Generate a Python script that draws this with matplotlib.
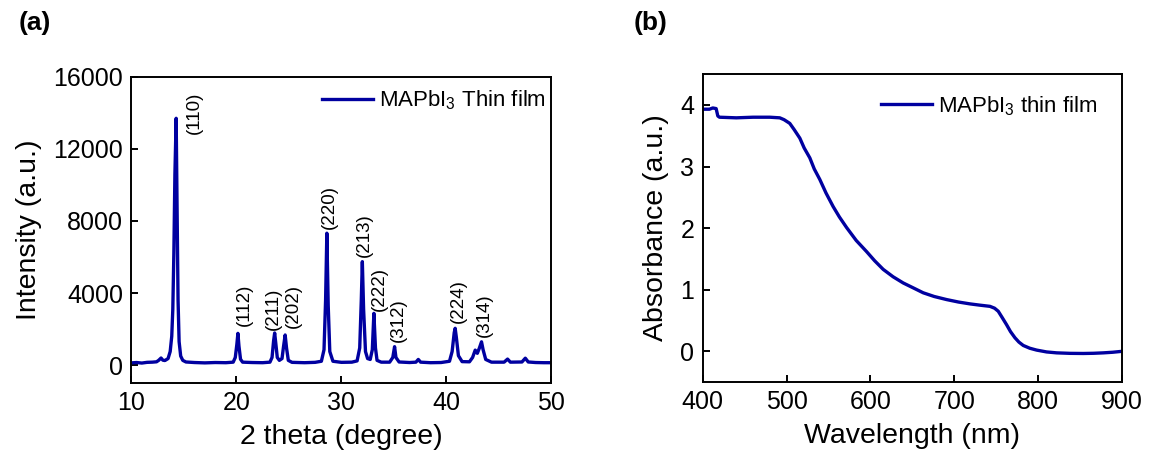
import numpy as np
import matplotlib.pyplot as plt

plt.rcParams['font.family'] = ['Liberation Sans', 'DejaVu Sans']
plt.rcParams['mathtext.fontset'] = 'custom'
plt.rcParams['mathtext.rm'] = 'Liberation Sans'

line_color = '#0000a0'

# XRD pattern (2 theta, intensity)
two_theta = [10.0, 10.5, 11.0, 11.5, 12.0, 12.4, 12.6, 12.83, 13.0, 13.2, 13.5, 13.7,
             13.85, 13.95, 14.05, 14.15, 14.27, 14.35, 14.45, 14.55, 14.7, 14.9, 15.2,
             16.0, 17.0, 18.0, 19.0, 19.7, 19.9, 20.05, 20.15, 20.25, 20.4, 20.6,
             21.5, 22.5, 23.2, 23.4, 23.55, 23.65, 23.75, 23.9, 24.1, 24.35, 24.5,
             24.65, 24.78, 24.95, 25.3, 26.5, 27.5, 28.1, 28.35, 28.5, 28.62, 28.75,
             28.9, 29.2, 30.0, 31.0, 31.5, 31.75, 31.9, 32.0, 32.12, 32.3, 32.5,
             32.75, 32.95, 33.1, 33.25, 33.4, 33.8, 34.6, 34.9, 35.07, 35.2, 35.5,
             36.5, 37.1, 37.33, 37.55, 38.5, 39.5, 40.3, 40.55, 40.75, 40.84, 40.95,
             41.15, 41.5, 42.2, 42.5, 42.75, 42.95, 43.15, 43.35, 43.5, 43.75, 44.3,
             45.5, 45.83, 46.1, 47.2, 47.52, 47.8, 48.5, 49.3, 50.0]
intensity = [120, 140, 110, 150, 160, 180, 260, 390, 270, 250, 360, 750,
             1600, 3100, 6200, 10600, 13700, 9100, 3600, 1300, 500, 260, 170,
             140, 120, 140, 130, 160, 420, 1150, 1760, 1050, 320, 160,
             140, 130, 160, 420, 1350, 1780, 1250, 420, 260, 360, 1050,
             1670, 950, 260, 150, 130, 150, 210, 850, 3600, 7320, 3300,
             750, 210, 150, 160, 230, 950, 3600, 5740, 3100, 750, 360,
             310, 850, 2870, 950, 260, 160, 160, 420, 1020, 420, 170,
             140, 160, 310, 160, 130, 140, 210, 750, 1800, 2040, 1550,
             520, 190, 180, 420, 830, 650, 950, 1290, 850, 310, 160,
             160, 330, 160, 170, 380, 170, 140, 130, 130]

# peak labels: (text, 2 theta, intensity of label centre)
peak_labels = ['(110)', '(112)', '(211)', '(202)', '(220)', '(213)', '(222)', '(312)', '(224)', '(314)']
label_x = [16.0, 20.8, 23.56, 25.47, 28.9, 32.15, 33.6, 35.4, 41.13, 43.6]
label_y = [14000, 3330, 3140, 3280, 8760, 7240, 4250, 2470, 3530, 2780]

# UV-vis absorbance
wavelength = [400, 408, 412, 416, 418, 420, 440, 460, 480, 491.9, 497, 503.8, 509, 515.8,
              521, 527.7, 533, 539.6, 547, 555.5, 563, 571.5, 583, 595.3, 605, 615.2,
              627, 639, 651, 662.9, 676, 690.8, 705, 718.6, 730, 742.5, 748, 752.4,
              757, 762.4, 767, 772.3, 777, 782.2, 790, 798.1, 810, 822, 838, 853.8,
              866, 877.7, 889, 900]
absorbance = [3.93, 3.93, 3.95, 3.94, 3.82, 3.80, 3.79, 3.80, 3.80, 3.79, 3.76, 3.70, 3.60,
              3.46, 3.30, 3.14, 2.96, 2.79, 2.57, 2.35, 2.18, 2.01, 1.80, 1.62, 1.47,
              1.33, 1.21, 1.11, 1.03, 0.95, 0.89, 0.84, 0.80, 0.77, 0.75, 0.73, 0.70,
              0.65, 0.55, 0.43, 0.32, 0.22, 0.15, 0.095, 0.05, 0.02, -0.01, -0.025,
              -0.033, -0.035, -0.032, -0.025, -0.015, 0.0]

fig = plt.figure(figsize=(11.52, 4.66), dpi=100)
ax1 = fig.add_axes([0.114, 0.178, 0.3646, 0.657])
ax2 = fig.add_axes([0.610, 0.180, 0.364, 0.661])

for ax in (ax1, ax2):
    for s in ax.spines.values():
        s.set_linewidth(1.4)
    ax.tick_params(direction='in', length=5, width=1.4, labelsize=18, pad=6,
                   top=False, right=False)

ax1.plot(two_theta, intensity, color=line_color, lw=2.4, solid_joinstyle='round',
         label='MAPbI$_3$ Thin film')
for t, x, y in zip(peak_labels, label_x, label_y):
    ax1.text(x, y, t, rotation=90, ha='center', va='center', fontsize=13.5)
ax1.set_xlim(10, 50)
ax1.set_ylim(-1000, 16000)
ax1.set_xticks([10, 20, 30, 40, 50])
ax1.set_yticks([0, 4000, 8000, 12000, 16000])
ax1.set_xlabel('2 theta (degree)', fontsize=20.5, labelpad=6)
ax1.set_ylabel('Intensity (a.u.)', fontsize=20.5, labelpad=8)
ax1.legend(loc='upper right', bbox_to_anchor=(0.994, 0.972), frameon=False, fontsize=16,
           handlelength=2.3, handletextpad=0.25, borderaxespad=0, borderpad=0.15)

ax2.plot(wavelength, absorbance, color=line_color, lw=2.4, solid_joinstyle='round',
         label='MAPbI$_3$ thin film')
ax2.set_xlim(400, 900)
ax2.set_ylim(-0.5, 4.5)
ax2.set_xticks([400, 500, 600, 700, 800, 900])
ax2.set_yticks([0, 1, 2, 3, 4])
ax2.set_xlabel('Wavelength (nm)', fontsize=20.5, labelpad=6)
ax2.set_ylabel('Absorbance (a.u.)', fontsize=20.5, labelpad=8)
ax2.legend(loc='upper right', bbox_to_anchor=(0.949, 0.946), frameon=False, fontsize=16,
           handlelength=2.3, handletextpad=0.25, borderaxespad=0, borderpad=0.15)

fig.text(0.016, 0.935, '(a)', fontsize=19, fontweight='bold')
fig.text(0.550, 0.935, '(b)', fontsize=19, fontweight='bold')

fig.savefig('out.png', dpi=100)
